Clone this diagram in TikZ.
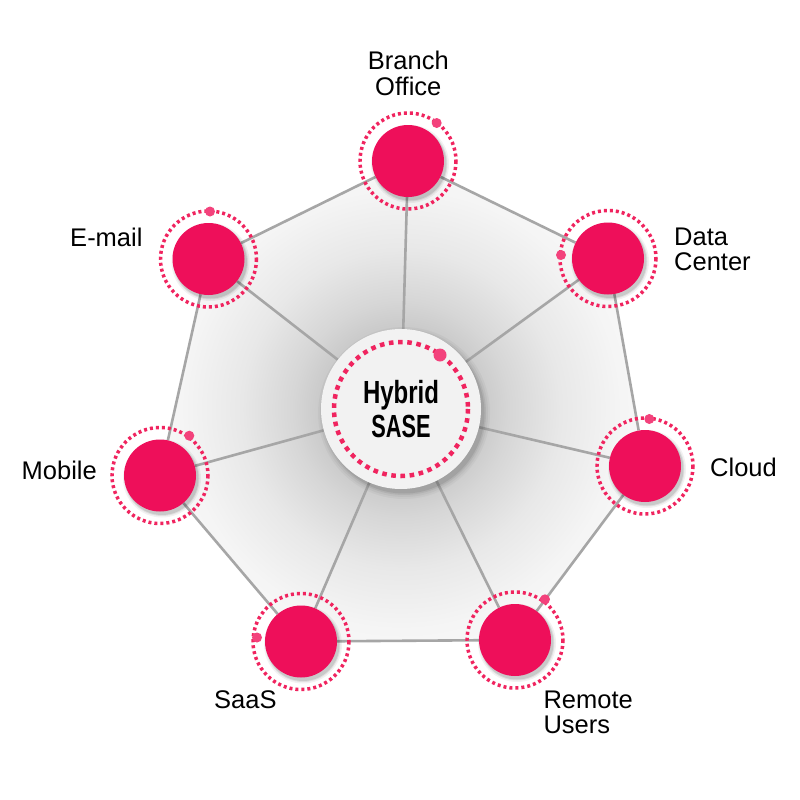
\documentclass[tikz,border=0pt]{standalone}
\usepackage{fontspec}
\setmainfont{Liberation Sans}
\usetikzlibrary{backgrounds}
\definecolor{pinkc}{HTML}{EE0F5A}
\definecolor{ringc}{HTML}{F0245F}
\definecolor{dotc}{HTML}{F3427C}
\definecolor{edgec}{HTML}{A6A6A6}
\definecolor{hubc}{HTML}{F2F2F2}
\pgfdeclareradialshading{bgshade}{\pgfpoint{0bp}{0bp}}{color(0bp)=(black!30); color(6.7bp)=(black!21); color(9bp)=(black!16); color(13.3bp)=(black!9); color(18.3bp)=(black!4); color(25bp)=(black!1); color(50bp)=(black!1)}
\begin{document}
\begin{tikzpicture}[x=1pt,y=-1pt,
  site/.style={circle, fill=pinkc, minimum size=72pt, inner sep=0pt},
  hub/.style={circle, fill=hubc, minimum size=160pt, inner sep=0pt, align=center},
  ring/.style={draw=ringc, line width=3.5pt, dash pattern=on 3pt off 3pt},
  hubring/.style={draw=ringc, line width=4.5pt, dash pattern=on 4.6pt off 4.6pt},
  ringdot/.style={fill=dotc},
  link/.style={draw=edgec, line width=2.6pt},
  lbl/.style={font=\fontsize{25.5}{25}\selectfont, inner sep=0pt},
  hubtext/.style={font=\fontsize{32}{36}\selectfont\bfseries}
]
\useasboundingbox (0,0) rectangle (800,800);
% nodes
\node[hub, hubtext] (hub) at (401,409) {\scalebox{0.75}[1]{Hybrid}\\[-2pt]\scalebox{0.68}[1]{SASE}};
\node[site] (bo) at (408,161) {};
\node[site] (dc) at (608,258.5) {};
\node[site] (cl) at (645,466) {};
\node[site] (ru) at (515,640) {};
\node[site] (sa) at (301,641.5) {};
\node[site] (mo) at (160,475.5) {};
\node[site] (em) at (208.5,259) {};
% background
\begin{scope}[on background layer]
  \fill[white] (0,0) rectangle (800,800);
  \begin{scope}
    \clip (bo.center) -- (dc.center) -- (cl.center) -- (ru.center) -- (sa.center) -- (mo.center) -- (em.center) -- cycle;
    \shade[shading=bgshade] (hub.center) circle (300);
  \end{scope}
  \draw[link] (bo) -- (dc) -- (cl) -- (ru) -- (sa) -- (mo) -- (em) -- (bo);
  \foreach \n in {bo,dc,cl,ru,sa,mo,em} \draw[link] (hub) -- (\n);
  \foreach \r/\o in {86/0.03, 84/0.04, 82/0.06, 80.5/0.08}
    \fill[black, opacity=\o] ([shift={(3,4)}]hub.center) circle (\r);
  \foreach \n in {bo,dc,cl,ru,sa,mo,em}
    \foreach \r/\o in {39/0.05, 37.5/0.07, 36.5/0.1}
      \fill[black, opacity=\o] ([shift={(2,3)}]\n.center) circle (\r);
\end{scope}
% rings
\draw[hubring] (hub.center) circle (67);
\foreach \n in {bo,dc,cl,ru,sa,mo,em} \draw[ring] (\n.center) circle (48);
% ring dots
\fill[ringdot] (440,355) circle (6.5);
\fill[ringdot] (436.7,123) circle (5);
\fill[ringdot] (210,211.5) circle (5);
\fill[ringdot] (561,255) circle (5);
\fill[ringdot] (649.3,419) circle (5);
\fill[ringdot] (257,637.5) circle (5);
\fill[ringdot] (189.3,435.7) circle (5);
\fill[ringdot] (545,599.3) circle (5);
% labels
\node[lbl, align=center, anchor=base] (lbo) at (408.3,95) {Branch\\Office};
\node[lbl, anchor=base east] (lem) at (142.7,246) {E-mail};
\node[lbl, align=left, anchor=base west] (ldc) at (674,270) {Data\\Center};
\node[lbl, anchor=base west] (lcl) at (710,476) {Cloud};
\node[lbl, anchor=base east] (lmo) at (97,479) {Mobile};
\node[lbl, anchor=base west] (lsa) at (214,708) {SaaS};
\node[lbl, align=left, anchor=base west] (lru) at (543.3,733) {Remote\\Users};
\end{tikzpicture}
\end{document}
